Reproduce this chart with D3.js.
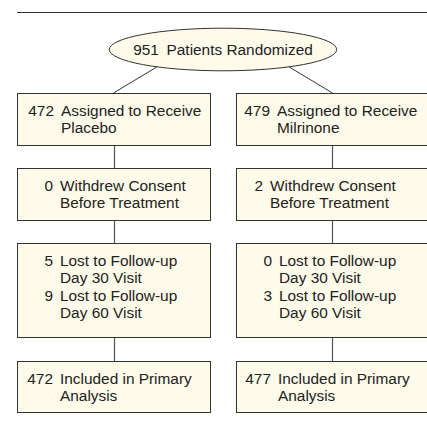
<!DOCTYPE html>
<html>
<head>
<meta charset="utf-8">
<script src="https://cdn.jsdelivr.net/npm/d3@7"></script>
<style>
  body { margin: 0; background: #fff; }
</style>
</head>
<body>
<div id="chart"></div>
<script>
// 1. data
var randomized = 951;
var arms      = ["Placebo", "Milrinone"];
var assigned  = [472, 479];
var withdrew  = [0, 2];
var lostDay30 = [5, 0];
var lostDay60 = [9, 3];
var included  = [472, 477];

// 2. layout
var width = 427, height = 426;
var fill = "#fffbea", stroke = "#333", ink = "#222", wire = "#555";
var font = "'Liberation Sans', Arial, Helvetica, sans-serif";
var fontSize = 15.4, lineGap = 17.3, groupGap = 35.5;

var rows = [
  { top: 93,  bottom: 145, labelX: [44, 41],
    groups: function(i) { return [[assigned[i], "Assigned to Receive", arms[i]]]; } },
  { top: 168, bottom: 220, labelX: [43, 34],
    groups: function(i) { return [[withdrew[i], "Withdrew Consent", "Before Treatment"]]; } },
  { top: 243, bottom: 337, labelX: [43, 43],
    groups: function(i) { return [[lostDay30[i], "Lost to Follow-up", "Day 30 Visit"],
                                  [lostDay60[i], "Lost to Follow-up", "Day 60 Visit"]]; } },
  { top: 361, bottom: 412, labelX: [43, 42],
    groups: function(i) { return [[included[i], "Included in Primary", "Analysis"]]; } }
];

var x = d3.scaleBand()
  .domain(arms)
  .range([17, 429])
  .paddingInner(0.1187);

var svg = d3.select("#chart").append("svg")
  .attr("width", width)
  .attr("height", height)
  .style("font-family", font)
  .style("font-size", fontSize + "px");

// top rule
svg.append("line")
  .attr("x1", 17).attr("x2", width)
  .attr("y1", 12.5).attr("y2", 12.5)
  .attr("stroke", stroke).attr("stroke-width", 1);

// 3. randomized ellipse + branches
var ell = { cx: 223, cy: 49.5, rx: 113.7, ry: 21.3 };
var branchDx = 66;

svg.selectAll(".branch")
  .data(arms)
  .enter().append("line")
  .attr("class", "branch")
  .attr("x1", function(d, i) { return ell.cx + (i ? branchDx : -branchDx); })
  .attr("y1", ell.cy + ell.ry * Math.sqrt(1 - Math.pow(branchDx / ell.rx, 2)))
  .attr("x2", function(d) { return x(d) + x.bandwidth() / 2; })
  .attr("y2", rows[0].top)
  .attr("stroke", stroke).attr("stroke-width", 1);

svg.append("ellipse")
  .attr("cx", ell.cx).attr("cy", ell.cy)
  .attr("rx", ell.rx).attr("ry", ell.ry)
  .attr("fill", fill).attr("stroke", stroke).attr("stroke-width", 1);

svg.append("text")
  .attr("x", ell.cx).attr("y", ell.cy + 5.7)
  .attr("text-anchor", "middle")
  .attr("fill", ink)
  .text(randomized + "\u2002Patients Randomized");

// 4. vertical connectors
var links = [];
arms.forEach(function(a) {
  for (var r = 0; r < rows.length - 1; r++) links.push({ arm: a, y1: rows[r].bottom, y2: rows[r + 1].top });
});
svg.selectAll(".link")
  .data(links)
  .enter().append("line")
  .attr("class", "link")
  .attr("x1", function(d) { return Math.round(x(d.arm) + x.bandwidth() / 2) + 0.5; })
  .attr("x2", function(d) { return Math.round(x(d.arm) + x.bandwidth() / 2) + 0.5; })
  .attr("y1", function(d) { return d.y1; })
  .attr("y2", function(d) { return d.y2; })
  .attr("stroke", wire).attr("stroke-width", 1.2);

// 5. boxes
rows.forEach(function(row) {
  arms.forEach(function(arm, i) {
    var x0 = Math.round(x(arm));
    var g = svg.append("g");
    g.append("rect")
      .attr("x", x0 + 0.5).attr("y", row.top + 0.5)
      .attr("width", Math.round(x.bandwidth()))
      .attr("height", row.bottom - row.top)
      .attr("fill", fill).attr("stroke", stroke).attr("stroke-width", 1);

    var lx = x0 + row.labelX[i];
    row.groups(i).forEach(function(grp, k) {
      var base = row.top + 22.5 + k * groupGap;
      g.append("text")
        .attr("x", lx - 7).attr("y", base)
        .attr("text-anchor", "end")
        .attr("fill", ink)
        .text(grp[0]);
      g.append("text")
        .attr("x", lx).attr("y", base)
        .attr("fill", ink)
        .text(grp[1]);
      g.append("text")
        .attr("x", lx).attr("y", base + lineGap)
        .attr("fill", ink)
        .text(grp[2]);
    });
  });
});
</script>
</body>
</html>
